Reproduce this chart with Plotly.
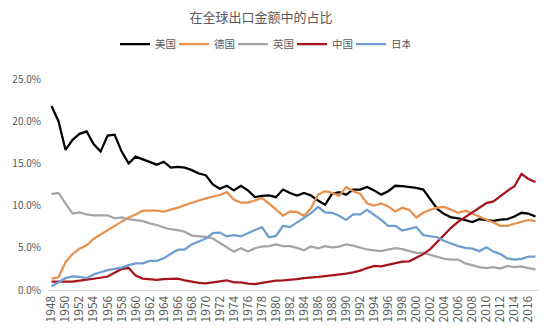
import plotly.graph_objects as go

years = list(range(1948, 2018))

us = [21.8, 20.0, 16.6, 17.8, 18.5, 18.8, 17.3, 16.4, 18.3, 18.4,
      16.4, 15.0, 15.8, 15.5, 15.2, 14.85, 15.2, 14.5, 14.6, 14.5,
      14.2, 13.8, 13.6, 12.5, 12.0, 12.35, 11.8, 12.35, 11.8, 11.0,
      11.15, 11.2, 11.0, 11.9, 11.5, 11.2, 11.5, 11.2, 10.6, 10.1,
      11.4, 11.6, 11.3, 11.9, 11.9, 12.2, 11.8, 11.3, 11.7, 12.35,
      12.3, 12.2, 12.1, 11.9, 10.8, 9.6, 9.0, 8.6, 8.5, 8.3,
      8.05, 8.4, 8.3, 8.2, 8.35, 8.4, 8.7, 9.15, 9.05, 8.7]

germany = [1.35, 1.5, 3.3, 4.25, 4.9, 5.3, 6.05, 6.6, 7.15, 7.6,
           8.1, 8.6, 8.95, 9.4, 9.4, 9.4, 9.3, 9.5, 9.75, 10.05,
           10.35, 10.6, 10.85, 11.05, 11.25, 11.6, 10.7, 10.35, 10.35, 10.6,
           10.9, 10.25, 9.5, 8.8, 9.3, 9.25, 8.8, 9.7, 11.3, 11.7,
           11.5, 11.15, 12.2, 11.7, 11.4, 10.25, 10.0, 10.25, 9.9, 9.3,
           9.75, 9.5, 8.6, 9.15, 9.5, 9.75, 9.85, 9.5, 9.15, 9.4,
           9.05, 8.7, 8.4, 8.0, 7.6, 7.6, 7.85, 8.05, 8.3, 8.15]

uk = [11.4, 11.5, 10.25, 9.05, 9.2, 8.95, 8.85, 8.85, 8.85, 8.5,
      8.6, 8.4, 8.25, 8.15, 7.9, 7.7, 7.4, 7.2, 7.1, 6.9,
      6.45, 6.35, 6.3, 6.1, 5.6, 5.15, 4.55, 4.95, 4.55, 4.95,
      5.15, 5.2, 5.4, 5.2, 5.2, 5.0, 4.7, 5.15, 4.95, 5.2,
      5.05, 5.15, 5.4, 5.25, 5.05, 4.8, 4.7, 4.6, 4.8, 4.95,
      4.85, 4.65, 4.4, 4.4, 4.15, 3.9, 3.7, 3.6, 3.6, 3.15,
      2.9, 2.7, 2.6, 2.7, 2.55, 2.85, 2.7, 2.8, 2.6, 2.45]

china = [1.0, 1.0, 1.0, 1.0, 1.1, 1.2, 1.35, 1.45, 1.6, 2.05,
         2.5, 2.6, 1.7, 1.35, 1.25, 1.2, 1.3, 1.35, 1.35, 1.15,
         1.0, 0.85, 0.8, 0.9, 1.0, 1.15, 0.9, 0.9, 0.75, 0.7,
         0.85, 1.0, 1.1, 1.15, 1.2, 1.3, 1.4, 1.45, 1.55, 1.65,
         1.75, 1.8, 1.95, 2.1, 2.3, 2.6, 2.85, 2.8, 3.0, 3.2,
         3.35, 3.4, 3.8, 4.25, 4.85, 5.7, 6.6, 7.4, 8.1, 8.7,
         9.2, 9.75, 10.3, 10.5, 11.15, 11.75, 12.3, 13.75, 13.15, 12.8]

japan = [0.45, 0.9, 1.4, 1.6, 1.55, 1.4, 1.85, 2.1, 2.35, 2.5,
         2.65, 2.95, 3.15, 3.15, 3.45, 3.45, 3.75, 4.3, 4.75, 4.8,
         5.4, 5.75, 6.1, 6.75, 6.8, 6.35, 6.5, 6.35, 6.75, 7.1,
         7.45, 6.25, 6.4, 7.6, 7.45, 8.05, 8.55, 9.1, 9.85, 9.2,
         9.15, 8.8, 8.3, 8.95, 8.95, 9.5, 8.95, 8.3, 7.6, 7.6,
         7.05, 7.25, 7.45, 6.5, 6.35, 6.25, 5.8, 5.5, 5.2, 5.0,
         4.9, 4.6, 5.05, 4.55, 4.25, 3.75, 3.6, 3.7, 3.95, 3.95]

series_names = ["美国", "德国", "英国", "中国", "日本"]
series_colors = ["#000000", "#E8914F", "#A5A5A5", "#A8141C", "#6E9ECF"]
series_values = [us, germany, uk, china, japan]

x_tick_vals = list(range(1948, 2017, 2))
x_tick_text = [str(v) for v in x_tick_vals]
y_tick_vals = [0, 5, 10, 15, 20, 25]
y_tick_text = ["0.0%", "5.0%", "10.0%", "15.0%", "20.0%", "25.0%"]

FONT = "Noto Sans CJK SC"
TXT = "#595959"

fig = go.Figure()
for name, color, vals in zip(series_names, series_colors, series_values):
    fig.add_trace(go.Scatter(x=years, y=vals, name=name, mode="lines",
                             line=dict(color=color, width=2.25)))

fig.update_layout(
    width=554, height=334,
    margin=dict(l=43.5, r=15, t=68, b=37),
    paper_bgcolor="white", plot_bgcolor="white",
    font=dict(family=FONT, color=TXT),
    title=dict(text="在全球出口金额中的占比", x=261/554, xanchor="center",
               y=1 - 17.5/334, yanchor="middle", xref="container",
               font=dict(size=13, color=TXT, family=FONT)),
    legend=dict(orientation="h", x=115/554, xanchor="left", y=1 - 44/334,
                yanchor="middle", xref="container", yref="container",
                font=dict(size=10.5, color=TXT, family=FONT),
                itemwidth=30, entrywidth=14, entrywidthmode="pixels",
                tracegroupgap=0, bgcolor="rgba(0,0,0,0)"),
    showlegend=True,
)
fig.update_xaxes(range=[1947.5, 2017.5], tickvals=x_tick_vals, ticktext=x_tick_text,
                 tickangle=-90, showgrid=False, zeroline=False, showline=True,
                 linecolor="#D9D9D9", linewidth=1, ticks="",
                 tickfont=dict(size=12, color=TXT, family=FONT))
fig.update_yaxes(range=[0, 25], tickvals=y_tick_vals, ticktext=y_tick_text,
                 showgrid=False, zeroline=False, showline=False, ticks="",
                 ticklabelstandoff=6,
                 tickfont=dict(size=10, color=TXT, family=FONT))

fig.write_html("out.html")
